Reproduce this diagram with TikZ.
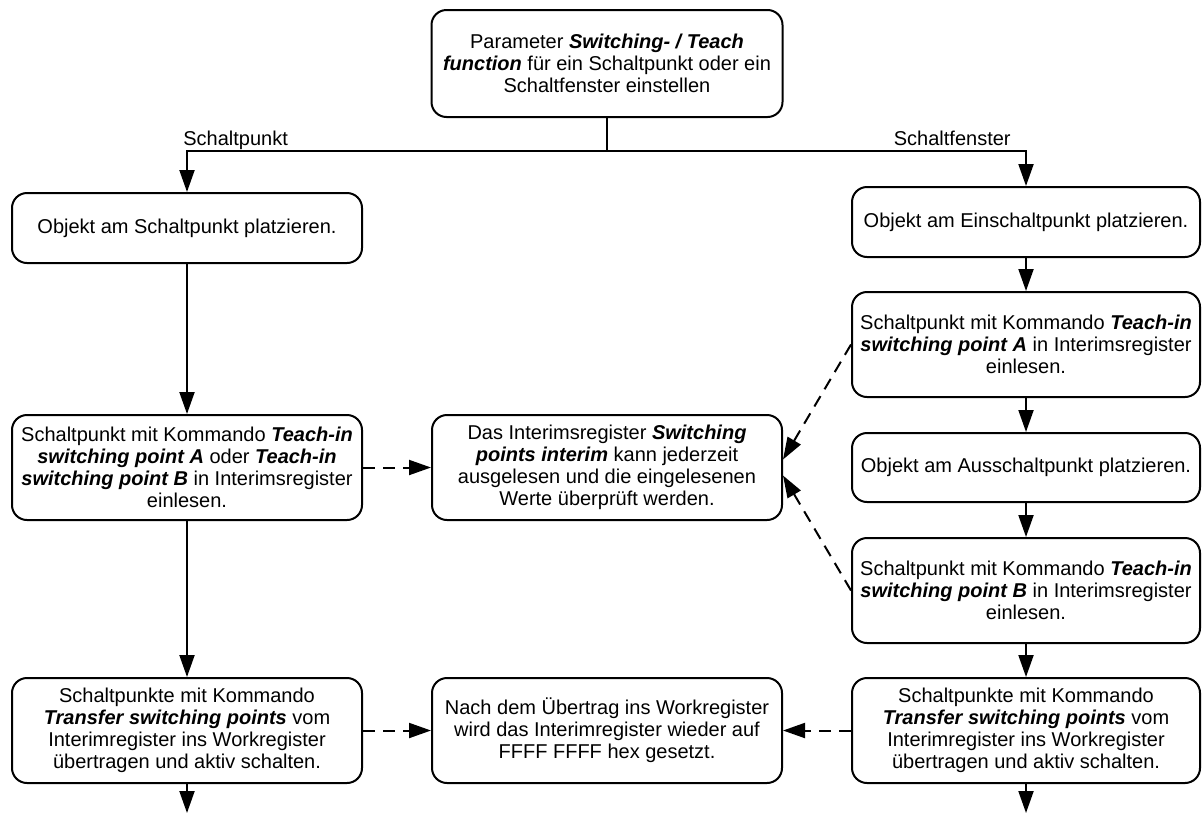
\documentclass[tikz,border=0pt]{standalone}
\usepackage{fontspec}
\setmainfont{Liberation Sans}
\usetikzlibrary{arrows.meta}

\newcommand{\kw}[1]{\textbf{\textit{#1}}}

\tikzset{
  box/.style={draw=black, line width=1pt, rounded corners=7.5pt, align=center,
    minimum width=175pt, minimum height=52.5pt, inner sep=2pt,
    font=\fontsize{10}{11}\selectfont},
  flat/.style={box, minimum height=35pt},
  arrow/.style={line width=1pt, -{Triangle[length=11pt,width=7.5pt]}},
  dasharrow/.style={arrow, dash pattern=on 6pt off 4pt},
  branch/.style={font=\fontsize{10}{11}\selectfont, inner sep=0pt}
}

\begin{document}
\begin{tikzpicture}[x=0.5pt, y=-0.5pt]
  \useasboundingbox (0,0) rectangle (1202,814);

  % start box
  \node[box, minimum width=175.5pt, minimum height=53.5pt] (param) at (607,63.5)
    {Parameter \kw{Switching- / Teach}\\ \kw{function} für ein Schaltpunkt oder ein\\ Schaltfenster einstellen};
  \coordinate (split) at (607,151);

  % left column: Schaltpunkt
  \node[flat] (pktplace) at (187,228) {Objekt am Schaltpunkt platzieren.};
  \node[box] (pktteach) at (187,467.5)
    {Schaltpunkt mit Kommando \kw{Teach-in}\\ \kw{switching point A} oder \kw{Teach-in}\\ \kw{switching point B} in Interimsregister\\ einlesen.};
  \node[box] (pktxfer) at (187,730.5)
    {Schaltpunkte mit Kommando\\ \kw{Transfer switching points} vom\\ Interimregister ins Workregister\\ übertragen und aktiv schalten.};

  % middle column: notes
  \node[box] (regview) at (607,467.5)
    {Das Interimsregister \kw{Switching}\\ \kw{points interim} kann jederzeit\\ ausgelesen und die eingelesenen\\ Werte überprüft werden.};
  \node[box] (regreset) at (607,730.5)
    {Nach dem Übertrag ins Workregister\\ wird das Interimregister wieder auf\\ FFFF FFFF hex gesetzt.};

  % right column: Schaltfenster
  \node[flat, minimum width=174pt] (winon) at (1026,222) {Objekt am Einschaltpunkt platzieren.};
  \node[box, minimum width=174pt] (winA) at (1026,344.5)
    {Schaltpunkt mit Kommando \kw{Teach-in}\\ \kw{switching point A} in Interimsregister\\ einlesen.};
  \node[flat, minimum width=174pt, minimum height=34.5pt] (winoff) at (1026,467.5) {Objekt am Ausschaltpunkt platzieren.};
  \node[box, minimum width=174pt] (winB) at (1026,590.5)
    {Schaltpunkt mit Kommando \kw{Teach-in}\\ \kw{switching point B} in Interimsregister\\ einlesen.};
  \node[box, minimum width=174pt] (winxfer) at (1026,730.5)
    {Schaltpunkte mit Kommando\\ \kw{Transfer switching points} vom\\ Interimregister ins Workregister\\ übertragen und aktiv schalten.};

  % branch labels
  \node[branch, anchor=base west] (lblpkt) at (183,145) {Schaltpunkt};
  \node[branch, anchor=base east] (lblwin) at (1011,145) {Schaltfenster};

  % loose ends at the bottom
  \coordinate (pktend) at (187,813);
  \coordinate (winend) at (1026,813);

  % solid flow
  \draw[line width=1pt] (param) -- (split);
  \draw[arrow] (split) -| (pktplace);
  \draw[arrow] (split) -| (winon);
  \draw[arrow] (pktplace) -- (pktteach);
  \draw[arrow] (pktteach) -- (pktxfer);
  \draw[arrow] (pktxfer) -- (pktend);
  \draw[arrow] (winon) -- (winA);
  \draw[arrow] (winA) -- (winoff);
  \draw[arrow] (winoff) -- (winB);
  \draw[arrow] (winB) -- (winxfer);
  \draw[arrow] (winxfer) -- (winend);

  % dashed hints
  \draw[dasharrow] (pktteach) -- (regview);
  \draw[dasharrow] (winA.west) -- ([yshift=4pt]regview.east);
  \draw[dasharrow] (winB.west) -- ([yshift=-4pt]regview.east);
  \draw[dasharrow] (pktxfer) -- (regreset);
  \draw[dasharrow] (winxfer) -- (regreset);

\end{tikzpicture}
\end{document}
